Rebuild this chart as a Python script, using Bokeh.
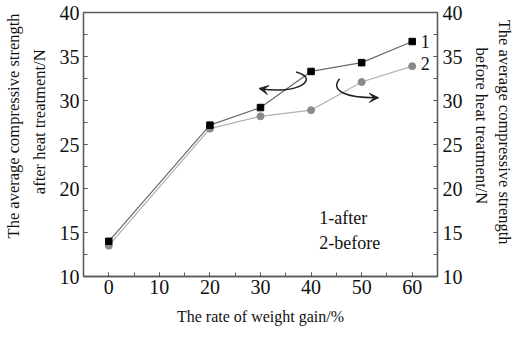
from bokeh.plotting import figure
from bokeh.models import LinearAxis, SingleIntervalTicker, FixedTicker, Range1d, Arrow, VeeHead
from bokeh.core.properties import value
from bokeh.embed import file_html
from bokeh.resources import INLINE

# ---- data ----
weight_gain = [0, 20, 30, 40, 50, 60]
strength_after = [14.0, 27.2, 29.2, 33.3, 34.3, 36.7]
strength_before = [13.5, 26.8, 28.2, 28.9, 32.1, 33.9]

series_tags = ["1", "2"]
tag_x = [61.7, 61.7]
tag_y = [36.7, 34.15]

legend_lines = ["1-after", "2-before"]
legend_x = [41.6, 41.6]
legend_y = [16.6, 13.85]

x_title = "The rate of weight gain/%"
left_title = ["The average compressive strength", "after heat treatment/N"]
right_title = ["The average compressive strength", "before heat treatment/N"]

# curved arrows (annotation), cubic bezier control points in data units
arc_x0 = [37.05, 45.65]
arc_y0 = [33.24, 32.47]
arc_cx0 = [41.9, 43.74]
arc_cy0 = [32.47, 31.15]
arc_cx1 = [37.4, 46.61]
arc_cy1 = [30.59, 30.26]
arc_x1 = [29.75, 53.31]
arc_y1 = [31.37, 30.32]

FONT = "Liberation Serif"
AX = "#5a5a5a"
TXT = "#111111"
NB = "\u00a0"

p = figure(width=516, height=329,
           min_border_left=78, min_border_right=75,
           min_border_top=12, min_border_bottom=53,
           x_range=Range1d(-5, 65), y_range=Range1d(10, 40),
           output_backend="svg", toolbar_location=None,
           background_fill_color="white", border_fill_color="white")

p.xgrid.visible = False
p.ygrid.visible = False
p.outline_line_color = AX
p.outline_line_width = 1.3

def style_axis(ax, ticker):
    ax.ticker = ticker
    ax.axis_line_color = AX
    ax.axis_line_width = 1.3
    ax.major_tick_line_color = AX
    ax.minor_tick_line_color = AX
    ax.major_tick_in = 4
    ax.major_tick_out = 0
    ax.minor_tick_in = 4
    ax.minor_tick_out = 0
    ax.major_label_text_font = FONT
    ax.major_label_text_font_size = "20px"
    ax.major_label_text_color = TXT
    ax.axis_label_text_font = FONT
    ax.axis_label_text_font_style = "normal"
    ax.axis_label_text_color = TXT

xa = p.xaxis[0]
style_axis(xa, SingleIntervalTicker(interval=10, num_minor_ticks=2))
xa.major_label_standoff = 3
xa.axis_label = x_title
xa.axis_label_text_font_size = "16px"
xa.axis_label_standoff = 11

style_axis(p.yaxis[0], SingleIntervalTicker(interval=5, num_minor_ticks=2))
p.yaxis[0].major_label_standoff = 4

yr = LinearAxis()
style_axis(yr, SingleIntervalTicker(interval=5, num_minor_ticks=2))
yr.major_label_standoff = 5
p.add_layout(yr, "right")

def title_axis(text, side, standoff):
    ax = LinearAxis(ticker=FixedTicker(ticks=[]), axis_label=text)
    ax.axis_line_color = None
    ax.major_tick_line_color = None
    ax.minor_tick_line_color = None
    ax.major_label_standoff = 0
    ax.major_tick_in = 0
    ax.major_tick_out = 0
    ax.axis_label_standoff = standoff
    ax.axis_label_text_font = FONT
    ax.axis_label_text_font_style = "normal"
    ax.axis_label_text_font_size = "16.5px"
    ax.axis_label_text_color = TXT
    p.add_layout(ax, side)

# non-breaking spaces only nudge each title line along its axis, as in the reference
title_axis(NB * 11 + left_title[1], "left", 8)
title_axis(NB * 9 + left_title[0], "left", 4)
title_axis(right_title[1] + NB * 9, "right", 6)
title_axis(right_title[0] + NB * 6, "right", 1)

# series 2 (before) - lighter
p.line(weight_gain, strength_before, line_color="#b0b0b0", line_width=1.2)
p.scatter(weight_gain, strength_before, marker="circle", size=7,
          fill_color="#8a8a8a", line_color="#8a8a8a")
# series 1 (after) - dark
p.line(weight_gain, strength_after, line_color="#6a6a6a", line_width=1.2)
p.scatter(weight_gain, strength_after, marker="square", size=6.5,
          fill_color="#000000", line_color="#000000")

# curved arrows
p.bezier(x0=arc_x0, y0=arc_y0, x1=arc_x1, y1=arc_y1,
         cx0=arc_cx0, cy0=arc_cy0, cx1=arc_cx1, cy1=arc_cy1,
         line_color="#222222", line_width=1.5)
for i in range(2):
    dx = arc_x1[i] - arc_cx1[i]
    dy = arc_y1[i] - arc_cy1[i]
    p.add_layout(Arrow(end=VeeHead(size=9, fill_color="#222222", line_color="#222222"),
                       x_start=arc_x1[i] - 0.15 * dx, y_start=arc_y1[i] - 0.15 * dy,
                       x_end=arc_x1[i], y_end=arc_y1[i], line_alpha=0))

p.text(tag_x, tag_y, text=series_tags, text_font=value(FONT), text_font_size="18px",
       text_align="left", text_baseline="middle", text_color=TXT)
p.text(legend_x, legend_y, text=legend_lines, text_font=value(FONT), text_font_size="18px",
       text_align="left", text_baseline="middle", text_color=TXT)

open("out.html", "w").write(file_html(p, INLINE))
